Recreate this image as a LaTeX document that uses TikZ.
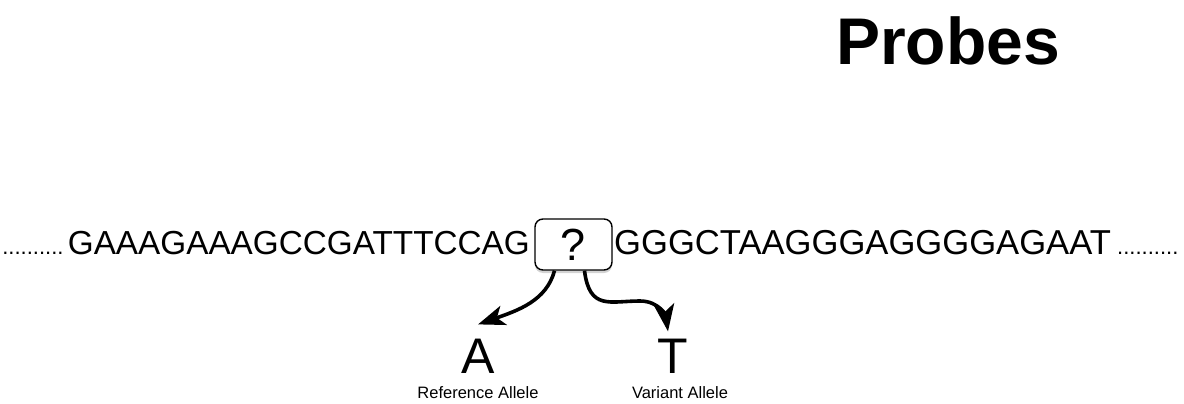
\documentclass[tikz,border=0pt]{standalone}
\usepackage{fontspec}
\setmainfont{Liberation Sans}
\usepackage{tikz}
\usetikzlibrary{arrows.meta,shadows}

\newcommand{\fs}[1]{\fontsize{#1}{#1}\selectfont}

\begin{document}
\begin{tikzpicture}[x=1pt,y=-1pt,
  t/.style={inner sep=0pt,anchor=base},
  seq/.style={inner sep=0pt,font=\fs{33.3}},
  dots/.style={inner sep=0pt,font=\fs{22}},
  qbox/.style={draw,line width=1.4pt,rounded corners=8pt,fill=white,minimum width=77pt,minimum height=51pt,
    inner sep=0pt,font=\fs{45},drop shadow={shadow xshift=0pt,shadow yshift=-3pt,opacity=0.35}},
  link/.style={-{Stealth[length=27pt,width=20pt,inset=7pt]},line width=3.6pt}]
\useasboundingbox (0,0) rectangle (1184,404);
\node[t,font=\bfseries\fs{66}] (title) at (948,65) {Probes};
\node[qbox] (q) at (573.5,244.5) {?};
\node[seq,anchor=base east] (lseq) at (530,254) {GAAAGAAAGCCGATTTCCAG};
\node[seq,anchor=base west,font=\fs{34.6}] (rseq) at (614,254) {GGGCTAAGGGAGGGGAGAAT};
\node[dots,anchor=base east] (ldots) at ([xshift=-4pt]lseq.base west) {..........};
\node[dots,anchor=base west] (rdots) at ([xshift=6pt]rseq.base east) {..........};
\node[t,font=\fs{50}] (ref) at (478,373) {A};
\node[t,font=\fs{50}] (var) at (673,373) {T};
\node[t,font=\fs{16.5}] (reflbl) at (478,398) {Reference Allele};
\node[t,font=\fs{16.5}] (varlbl) at (680,398) {Variant Allele};
\coordinate (bend) at (640,301);
\draw[link] ([xshift=-19pt]q.south) .. controls +(-8,30) and +(40,-14) .. ([yshift=14pt]ref.north);
\draw[link] ([xshift=11pt]q.south) .. controls +(5,40) and +(-30,0) .. (bend)
  .. controls +(20,0) and +(-2,-14) .. ([xshift=-5pt,yshift=7pt]var.north);
\end{tikzpicture}
\end{document}
